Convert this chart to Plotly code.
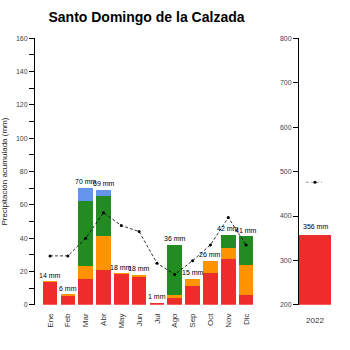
import plotly.graph_objects as go

months = ["Ene", "Feb", "Mar", "Abr", "May", "Jun", "Jul", "Ago", "Sep", "Oct", "Nov", "Dic"]
red = [13.6, 5.7, 15.3, 21.0, 18.5, 16.5, 1.0, 4.1, 11.4, 18.8, 27.6, 5.9]
orange = [0.4, 0.3, 7.7, 20.0, 0.3, 1.5, 0.0, 1.6, 4.0, 7.6, 6.4, 17.6]
green = [0.0, 0.0, 39.0, 24.0, 0.0, 0.0, 0.0, 30.0, 0.0, 0.0, 8.0, 17.5]
blue = [0.0, 0.0, 8.0, 4.0, 0.0, 0.0, 0.0, 0.0, 0.0, 0.0, 0.0, 0.0]
labels = ["14 mm", "6 mm", "70 mm", "69 mm", "18 mm", "18 mm", "1 mm", "36 mm", "15 mm", "26 mm", "42 mm", "41 mm"]
avg_month = [29.4, 29.4, 40.0, 55.3, 47.6, 44.0, 25.0, 18.2, 26.5, 36.0, 52.4, 35.9]
year_label = ["2022"]
year_total = [356]
year_avg = 476

C_RED = "#EE2C2C"
C_ORA = "#FF9400"
C_GRN = "#228B22"
C_BLU = "#6495ED"
FONT = "Liberation Sans, Arial, sans-serif"

fig = go.Figure()
x = list(range(12))
for vals, col in [(red, C_RED), (orange, C_ORA), (green, C_GRN), (blue, C_BLU)]:
    fig.add_trace(go.Bar(x=x, y=vals, marker=dict(color=col, line=dict(width=0)),
                         width=0.82, xaxis="x", yaxis="y", showlegend=False))
totals = [r + o + g + b for r, o, g, b in zip(red, orange, green, blue)]
fig.add_trace(go.Scatter(x=x, y=avg_month, mode="lines+markers",
                         line=dict(color="black", width=0.8, dash="3px,2px"),
                         marker=dict(color="black", size=3), xaxis="x", yaxis="y", showlegend=False))
for xi, t, lab in zip(x, totals, labels):
    fig.add_annotation(x=xi, y=t, text=lab, showarrow=False, yanchor="bottom", yshift=1,
                       xref="x", yref="y", font=dict(size=7, color="black", family=FONT))

# annual panel
fig.add_trace(go.Bar(x=[0], y=year_total, marker=dict(color=C_RED, line=dict(width=0)), width=1.0,
                     base=0, xaxis="x2", yaxis="y2", showlegend=False))
fig.add_trace(go.Scatter(x=[-0.28, 0.22], y=[year_avg, year_avg], mode="lines",
                         line=dict(color="#888", width=0.8, dash="3px,2px"),
                         xaxis="x2", yaxis="y2", showlegend=False))
fig.add_trace(go.Scatter(x=[0], y=[year_avg], mode="markers", marker=dict(color="black", size=3),
                         xaxis="x2", yaxis="y2", showlegend=False))
fig.add_annotation(x=0, y=year_total[0], text=f"{year_total[0]} mm", showarrow=False, yanchor="bottom",
                   yshift=4, xref="x2", yref="y2", font=dict(size=7, color="black", family=FONT))

W = 350.0
ydom = [(350 - 307) / W, (350 - 35) / W]
tickfont = dict(size=7, color="#444", family=FONT)

fig.update_layout(
    width=350, height=350, margin=dict(l=0, r=0, t=0, b=0),
    paper_bgcolor="white", plot_bgcolor="white", barmode="stack", bargap=0,
    font=dict(family=FONT),
    title=dict(text="<b>Santo Domingo de la Calzada</b>", x=146.5 / W, xanchor="center",
               y=1 - 17 / W, yanchor="middle", font=dict(size=14, color="black", family=FONT)),
    xaxis=dict(domain=[34 / W, 255 / W], range=[-0.9, 11.5], tickmode="array", tickvals=x,
               ticktext=months, tickangle=-90, tickfont=dict(size=8, color="#333", family=FONT),
               showline=False, showgrid=False, zeroline=False, ticks="", anchor="y",
               ticklabelstandoff=6),
    yaxis=dict(domain=ydom, range=[0, 160], dtick=20, showline=True, linecolor="black", linewidth=1,
               ticks="outside", ticklen=5, tickcolor="black", tickwidth=1, showgrid=False, zeroline=False,
               tickfont=tickfont, anchor="free", position=34 / W,
               minor=dict(ticks="outside", dtick=10, ticklen=5, tickcolor="black", tickwidth=1, showgrid=False),
               title=dict(text="Precipitación acumulada (mm)", font=dict(size=8, color="#222", family=FONT),
                          standoff=8)),
    xaxis2=dict(domain=[299 / W, 331 / W], range=[-0.5, 0.5], tickmode="array", tickvals=[0],
                ticktext=year_label, tickfont=dict(size=8, color="#333", family=FONT),
                showline=False, showgrid=False, zeroline=False, ticks="", anchor="y2",
                ticklabelstandoff=9),
    yaxis2=dict(domain=ydom, range=[200, 800], dtick=100, showline=True, linecolor="black", linewidth=1,
                ticks="outside", ticklen=5, tickcolor="black", tickwidth=1, showgrid=False, zeroline=False,
                tickfont=tickfont, anchor="x2"),
)

fig.write_html("out.html")
